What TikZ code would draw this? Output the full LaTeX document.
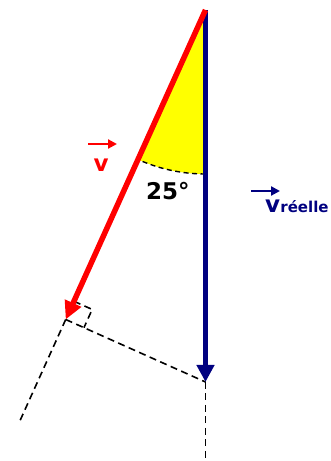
\documentclass[tikz,border=0pt]{standalone}
\usepackage{fontspec}
\setmainfont{DejaVu Sans}
\usetikzlibrary{arrows.meta,calc}
\definecolor{navyblue}{RGB}{0,0,128}
\definecolor{vred}{RGB}{255,0,0}
\definecolor{syellow}{RGB}{255,255,0}
\begin{document}
\begin{tikzpicture}[x=1pt,y=1pt,
  redvec/.style={vred, line width=5.5pt, -{Triangle[length=18pt,width=17pt]}},
  bluevec/.style={navyblue, line width=5.5pt, -{Triangle[length=17pt,width=17pt]}},
  helper/.style={black, line width=1.6pt, dash pattern=on 7pt off 4.5pt},
  smallvec/.style={line width=2.2pt, -{Triangle[length=9pt,width=9pt]}},
  lab/.style={inner sep=0pt, font=\fontsize{23}{23}\selectfont\bfseries},
  sublab/.style={inner sep=0pt, font=\fontsize{15}{15}\selectfont\bfseries}
]
\useasboundingbox (0,0) rectangle (330,461);
% key points
\coordinate (O) at (205.5,451);
\coordinate (R) at (65.7,141.5);
\coordinate (B) at (205.5,79);
\coordinate (E) at ($(O)!1.335!(R)$);
\coordinate (F) at (205.5,0);
% angle sector
\fill[syellow] (O) -- ++(270:164pt) arc[start angle=270, end angle=245.75, radius=164pt] -- cycle;
\draw[helper, line width=1.4pt, dash pattern=on 5pt off 3.5pt] (O) ++(270:164pt) arc[start angle=270, end angle=245.75, radius=164pt];
% helper lines
\coordinate (c1) at ($(R)!20pt!(O)$);
\coordinate (c2) at ($(R)!20pt!(B)$);
\coordinate (c3) at ($(c1)+(c2)-(R)$);
\draw[helper] (R) -- (B);
\draw[helper] (c1) -- (c3) -- (c2);
\draw[helper] (R) -- (E);
\draw[helper] (B) -- (F);
% vectors
\draw[bluevec] (O) -- (B);
\draw[redvec] (O) -- (R);
% labels
\node[lab, anchor=base west] (ang) at (146,261) {25°};
\node[lab, anchor=base, text=vred] (vlab) at (101,289) {v};
\coordinate (va1) at (88,317);
\coordinate (va2) at (117,317);
\draw[smallvec, vred] (va1) -- (va2);
\node[lab, anchor=base, text=navyblue] (vr) at (272.5,248) {v};
\node[sublab, anchor=base west, text=navyblue] (vrs) at (vr.base east) {réelle};
\coordinate (vb1) at (251,270);
\coordinate (vb2) at (280,270);
\draw[smallvec, navyblue] (vb1) -- (vb2);
\end{tikzpicture}
\end{document}
